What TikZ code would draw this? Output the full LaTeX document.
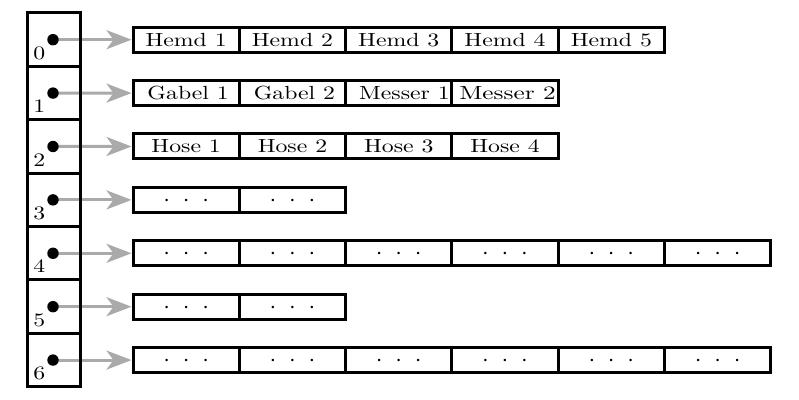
\documentclass[tikz,border=0pt]{standalone}
\usepackage{graphicx}
\usetikzlibrary{arrows.meta,backgrounds}
\newcommand\wt[1]{\scalebox{1.25}[1]{#1}}
\newcommand\ddd{\raisebox{-3.25pt}{\fontsize{13}{15}\selectfont$\cdot\hspace{3.75pt}\cdot\hspace{3.75pt}\cdot$}}
\definecolor{arrgray}{RGB}{170,170,170}
\begin{document}
\begin{tikzpicture}[x=0.5pt,y=-0.5pt,
  cell/.style={draw, line width=1.5pt, minimum width=53.15pt, minimum height=12.5pt, inner sep=0pt, font=\fontsize{9.5}{11}\selectfont},
  dotcell/.style={cell, text height=0pt, text depth=0pt},
  slot/.style={draw, line width=1.5pt, minimum width=26.5pt, minimum height=26.7pt, inner sep=0pt},
  ptr/.style={circle, fill=black, inner sep=0pt, minimum size=5.7pt},
  idx/.style={anchor=base west, inner sep=0pt, font=\fontsize{9.5}{11}\selectfont},
  link/.style={draw=arrgray, line width=1.5pt, -{Stealth[length=12.5pt,width=9.5pt,inset=3.5pt]}}]
\useasboundingbox (0,0) rectangle (799,400);
% slots
\foreach \i in {0,...,6} {
  \node[slot] (s\i) at (53.5, {39.7+53.4*\i}) {};
  \node[idx] (l\i) at (33, {13+53.4*(\i+1)-7}) {\wt{\i}};
  \node[ptr] (p\i) at (53, {39.7+53.4*\i}) {};
}
% text rows
\foreach \t [count=\k] in {Hemd 1, Hemd 2, Hemd 3, Hemd 4, Hemd 5}
  \node[cell] (c0-\k) at ({133+106.3*(\k-0.5)}, 39.7) {\wt{\t}};
\node[cell] (c1-1) at ({133+106.3*0.5}, 93.1) {\hspace*{2pt}\wt{Gabel 1}};
\node[cell] (c1-2) at ({133+106.3*1.5}, 93.1) {\hspace*{2pt}\wt{Gabel 2}};
\node[cell] (c1-3) at ({133+106.3*2.5}, 93.1) {\hspace*{5.7pt}\wt{Messer 1}};
\node[cell] (c1-4) at ({133+106.3*3.5}, 93.1) {\hspace*{2.5pt}\scalebox{1.33}[1]{Messer 2}};
\foreach \t [count=\k] in {Hose 1, Hose 2, Hose 3, Hose 4}
  \node[cell] (c2-\k) at ({133+106.3*(\k-0.5)}, 146.5) {\wt{\t}};
% dotted rows
\foreach \r/\n in {3/2, 4/6, 5/2, 6/6}
  \foreach \k in {1,...,\n}
    \node[dotcell] (c\r-\k) at ({133+106.3*(\k-0.5)}, {39.7+53.4*\r}) {\ddd};
% arrows
\begin{scope}[on background layer]
\foreach \i in {0,...,6}
  \draw[link] (p\i.center) -- (c\i-1.west);
\end{scope}
\end{tikzpicture}
\end{document}
